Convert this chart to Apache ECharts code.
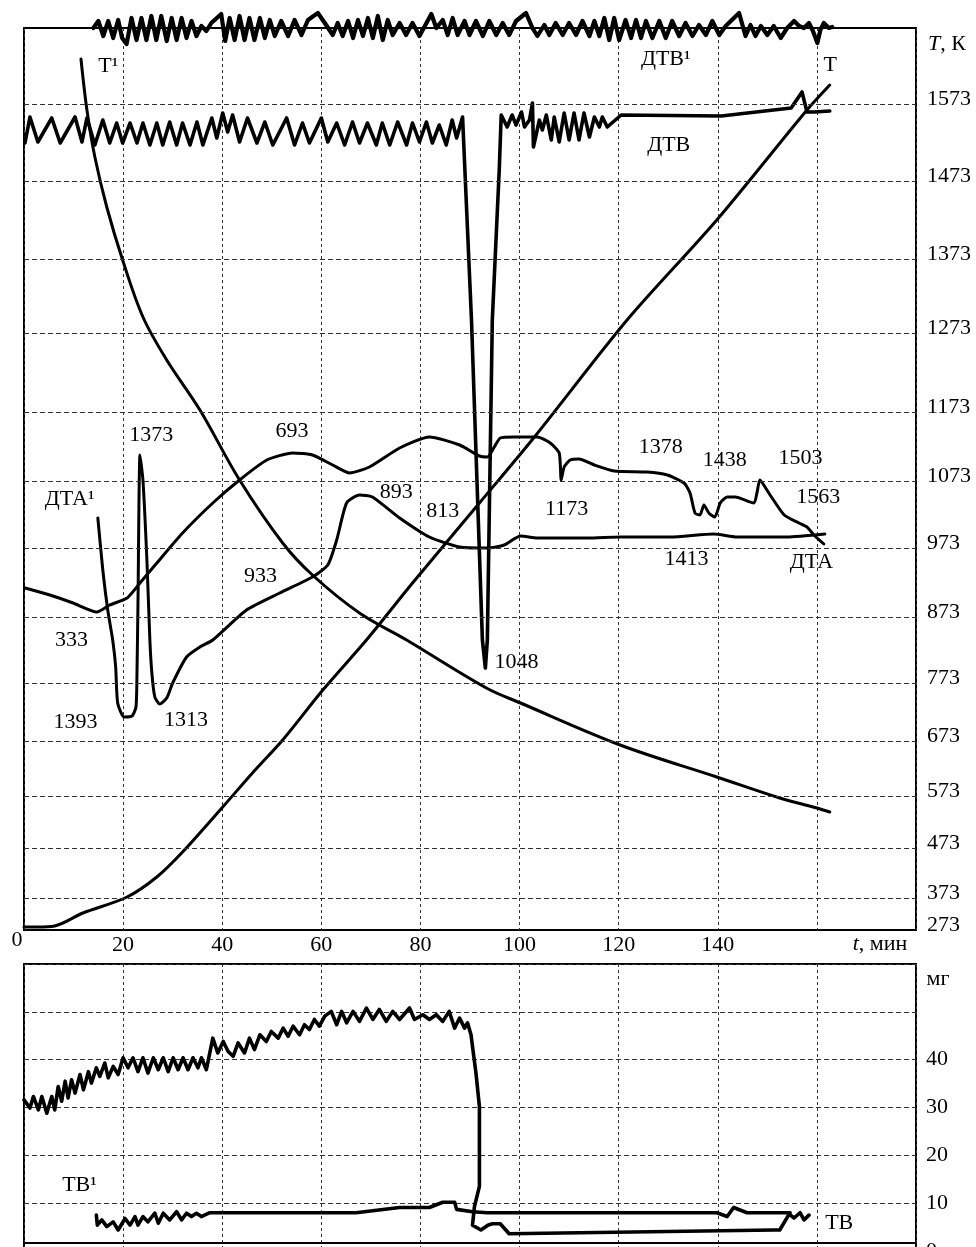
<!DOCTYPE html>
<html><head><meta charset="utf-8">
<script src="https://cdn.jsdelivr.net/npm/echarts@6/dist/echarts.min.js"></script>
<style>html,body{margin:0;padding:0;background:#fff}#c{width:976px;height:1247px}</style>
</head><body><div id="c"></div>
<script>
// ---- axis ticks ----
const timeTicks = [20, 40, 60, 80, 100, 120, 140];
const tempTickLabels = ['273','373','473','573','673','773','873','973','1073','1173','1273','1373','1473','1573'];
const tempTickPos = [0, 32, 82, 134, 189, 247, 313, 382, 449, 518, 597, 671, 749, 826];
const massTickLabels = ['0','10','20','30','40'];

// ---- top panel curves: [t (min), height on chart scale] ----
const heatT = [[0,3],[2.6,3],[6.2,4],[11.9,17],[20.8,33],[26.8,53],[32.0,78],[40.1,123],[46.1,157],[52.2,190],[60.3,240],[69.1,290],[78.4,347],[91.9,427],[103.0,493],[121.7,610],[139.8,710],[158.0,820],[162.6,845]];
const coolT = [[11.5,871],[12.7,820],[14.3,773],[16.7,723],[19.9,670],[24.0,613],[28.8,570],[35.5,520],[43.5,450],[52.2,387],[58.2,355],[67.7,317],[77.2,290],[93.3,242],[100.2,227],[120.3,185],[139.8,153],[152.5,132],[160.0,122],[162.6,118]];
const dtaHeat = [[0.2,342],[5.2,335],[9.9,327],[14.7,318],[17.3,325],[20.8,332],[23.4,347],[26.8,367],[32.0,397],[38.1,427],[43.5,450],[49.0,470],[54.2,477],[58.2,475],[62.3,465],[65.7,457],[69.7,463],[75.8,482],[81.8,493],[87.9,485],[91.9,474],[93.5,473],[94.9,483],[96.1,492],[98.9,493],[103.6,493],[106.2,487],[108.0,477],[108.4,450],[109.0,463],[110.2,470],[112.0,471],[115.1,465],[119.1,459],[125.7,458],[129.8,455],[133.2,447],[134.4,437],[135.4,417],[136.4,415],[137.2,425],[138.2,417],[139.4,413],[140.5,427],[141.9,433],[143.5,433],[147.3,427],[147.9,437],[148.5,450],[150.3,437],[153.4,415],[156.4,407],[158.0,403],[159.4,395],[161.4,386]];
const dtaCool = [[14.9,412],[15.9,360],[16.9,320],[17.9,290],[18.5,263],[18.9,227],[20.2,213],[21.8,214],[22.6,223],[22.8,257],[23.0,327],[23.4,475],[24.0,450],[24.8,370],[25.4,290],[25.8,257],[26.4,233],[27.4,226],[28.8,232],[30.0,247],[32.8,273],[35.5,283],[38.1,290],[44.9,320],[51.6,337],[58.2,353],[61.3,365],[63.1,390],[65.1,427],[67.7,435],[70.3,433],[75.8,412],[81.8,393],[87.9,383],[93.5,382],[96.9,385],[100.2,394],[103.6,392],[113.7,392],[120.3,393],[130.4,393],[139.2,396],[143.9,393],[154.0,393],[161.6,396]];
const dtgHeat = [[0.2,787],[1.2,813],[2.8,788],[5.6,812],[7.3,787],[10.3,813],[11.7,788],[12.7,812],[14.3,785],[15.9,810],[17.3,787],[18.7,807],[19.9,787],[21.4,807],[22.8,787],[24.0,807],[25.4,785],[26.8,807],[28.0,785],[29.4,808],[30.8,785],[32.0,807],[33.5,785],[34.9,808],[36.1,785],[37.9,812],[38.9,792],[40.1,817],[41.1,798],[42.1,815],[43.5,788],[45.1,812],[47.0,787],[48.6,808],[50.2,785],[53.0,812],[54.6,785],[56.2,807],[57.6,787],[60.0,812],[61.3,788],[63.1,807],[64.7,785],[66.3,808],[67.7,787],[69.3,807],[71.1,785],[72.3,807],[73.8,785],[75.4,808],[77.2,785],[78.4,807],[79.8,788],[81.2,808],[82.4,787],[83.8,805],[85.2,785],[86.4,810],[87.3,792],[88.5,813],[90.3,610],[92.5,290],[93.1,262],[93.5,290],[94.5,610],[95.9,760],[96.3,815],[97.5,803],[98.5,815],[99.3,805],[100.4,818],[101.0,803],[102.0,810],[102.6,827],[102.8,783],[104.0,810],[104.6,800],[105.4,815],[106.4,790],[107.0,813],[108.0,788],[109.0,817],[110.0,790],[111.0,817],[112.0,790],[113.0,817],[114.1,793],[115.1,813],[116.1,803],[116.7,813],[117.7,803],[120.5,815],[140.7,814],[154.8,822],[157.0,838],[158.0,818],[159.4,818],[162.6,819]];
const dtgCool = [[14.0,902],[15.0,909],[16.0,894],[17.0,909],[18.0,892],[19.0,910],[19.8,892],[20.7,886],[21.7,912],[22.7,890],[23.7,912],[24.7,890],[25.7,914],[26.7,890],[27.7,914],[28.8,889],[29.8,912],[30.8,890],[31.8,912],[32.8,892],[33.8,909],[34.8,894],[35.8,904],[36.8,899],[37.8,907],[39.8,916],[40.6,889],[41.5,912],[42.5,890],[43.5,914],[44.5,890],[45.5,912],[46.5,890],[47.6,912],[48.6,892],[49.6,910],[50.6,894],[51.9,909],[53.3,894],[54.6,910],[56.0,895],[57.3,910],[59.3,917],[60.7,907],[62.3,895],[63.3,907],[64.3,894],[65.4,909],[66.4,892],[67.4,910],[68.4,894],[69.4,912],[70.4,892],[71.4,914],[72.4,890],[73.4,910],[74.4,895],[75.8,907],[77.1,895],[78.4,907],[79.8,894],[82.2,916],[83.2,902],[84.5,910],[85.5,895],[86.5,912],[87.5,895],[88.9,909],[89.9,895],[91.2,909],[92.6,894],[93.9,909],[95.3,895],[96.6,907],[97.9,895],[99.3,909],[101.3,917],[102.6,902],[103.6,894],[105.0,905],[106.0,895],[107.3,907],[108.7,895],[110.0,907],[111.4,895],[112.7,909],[114.1,894],[115.1,909],[116.1,894],[117.1,912],[118.1,890],[119.1,912],[120.1,890],[121.4,910],[122.5,892],[123.5,910],[124.5,892],[125.5,909],[126.8,892],[128.2,909],[129.5,892],[130.8,909],[132.2,894],[133.5,907],[134.9,894],[136.2,905],[137.6,895],[138.9,909],[140.3,895],[141.6,904],[144.3,917],[145.6,894],[146.6,905],[147.6,894],[148.7,904],[150.0,895],[151.3,904],[152.7,892],[154.0,902],[155.4,909],[156.4,904],[157.4,902],[158.4,907],[159.2,899],[160.1,887],[160.7,900],[161.4,907],[162.4,902],[163.1,903]];

// ---- bottom panel curves: [t (min), mass (mg)] ----
const tgHeat = [[0,31.6],[1.2,29.9],[1.9,32.3],[2.9,29.5],[3.6,32.3],[4.6,28.8],[5.6,32.3],[6.2,29.5],[6.9,34.4],[7.6,31.3],[8.3,35.5],[8.9,32.0],[9.6,35.8],[10.3,33.0],[11.3,36.9],[12.0,33.7],[13.0,37.5],[13.6,35.1],[14.6,38.3],[15.3,36.5],[16.3,39.3],[17.0,36.2],[18.0,38.6],[19.0,36.9],[20.0,40.4],[21.0,38.3],[22.0,40.4],[23.0,37.5],[24.0,40.4],[25.0,37.2],[26.1,40.4],[27.1,37.9],[28.1,40.4],[29.1,37.5],[30.1,40.4],[31.1,37.9],[32.1,40.4],[33.1,37.9],[34.1,40.4],[35.1,38.3],[35.8,40.4],[36.8,37.9],[38.1,44.5],[39.1,41.4],[40.2,43.8],[41.2,41.7],[42.2,40.7],[43.2,43.5],[44.5,41.4],[45.5,44.5],[46.5,42.1],[47.6,45.2],[48.9,43.8],[49.9,45.9],[51.3,44.5],[52.3,46.6],[53.3,44.9],[54.3,47.0],[55.6,45.2],[56.6,47.3],[57.6,46.3],[58.6,48.4],[59.6,47.0],[60.7,49.1],[62.0,50.1],[63.1,47.3],[64.1,50.1],[65.1,47.7],[66.4,50.1],[67.7,48.0],[69.1,50.8],[70.4,48.4],[71.7,50.5],[73.1,48.0],[74.4,50.1],[75.8,48.4],[77.8,50.8],[78.8,48.4],[80.5,49.4],[81.8,48.4],[83.2,49.4],[84.5,48.0],[85.8,50.1],[86.9,46.6],[87.9,48.7],[88.9,46.6],[89.5,47.7],[90.2,45.2],[91.2,37.2],[91.9,30.2],[91.9,13.5],[90.9,9.3],[90.5,5.4],[92.2,4.4],[93.6,5.4],[94.5,5.7],[96.1,5.7],[97.9,3.6],[151.3,4.4],[152.5,4.4],[154.4,7.7],[155.4,6.9],[156.6,8.0],[157.4,6.5],[158.4,7.5]];
const tgCool = [[14.6,7.5],[14.8,5.4],[15.7,6.5],[16.7,5.1],[18.0,6.1],[19.0,4.4],[20.4,6.8],[21.4,5.4],[22.4,7.2],[23.0,5.4],[24.0,7.2],[25.0,6.1],[26.4,7.9],[27.1,5.8],[28.1,7.9],[29.4,6.5],[30.8,8.2],[31.8,6.5],[32.8,7.9],[33.8,7.2],[34.8,7.9],[35.8,7.2],[37.5,8.0],[67.0,8.0],[75.8,9.1],[81.8,9.1],[84.5,10.2],[86.9,10.2],[87.3,8.7],[90.5,8.2],[93.5,8.0],[139.8,8.0],[141.9,7.2],[143.2,9.1],[145.9,8.0],[154.6,8.0]];

// ---- annotations: [t, height, text] ----
const notesTop = [[17.1,863,'Т¹'],[129.6,870,'ДТВ¹'],[162.8,864,'Т'],[130.2,784,'ДТВ'],[25.8,494,'1373'],[54.2,498,'693'],[9.3,430,'ДТА¹'],[75.2,437,'893'],[84.6,418,'813'],[47.8,353,'933'],[9.7,289,'333'],[10.5,207,'1393'],[32.8,209,'1313'],[99.5,267,'1048'],[109.6,420,'1173'],[128.6,482,'1378'],[141.5,469,'1438'],[156.8,471,'1503'],[160.4,432,'1563'],[133.8,370,'1413'],[159.0,367,'ДТА']];
const notesBottom = [[11.3,13.6,'ТВ¹'],[164.6,5.7,'ТВ']];

const FONT = 'Liberation Serif';
const FS = 22;
const chart = echarts.init(document.getElementById('c'));

const curve = (data, xi, yi, extra) => Object.assign({
  type: 'line', data: data, xAxisIndex: xi, yAxisIndex: yi,
  symbol: 'none', silent: true, animation: false,
  lineStyle: {color: '#000', width: 3, join: 'round', cap: 'round'}
}, extra || {});
const thick = w => ({color: '#000', width: w, join: 'round', cap: 'round'});

const notes = (arr, xi, yi) => ({
  type: 'scatter', xAxisIndex: xi, yAxisIndex: yi, symbolSize: 1, silent: true, animation: false, clip: false,
  itemStyle: {color: '#fff', opacity: 0},
  data: arr.map(n => ({value: [n[0], n[1]], name: n[2]})),
  label: {show: true, position: [0, 0], align: 'center', verticalAlign: 'middle', formatter: p => p.name,
    color: '#000', opacity: 1, textBorderWidth: 0, fontFamily: FONT, fontSize: FS}
});

const xAx = (gi, showLabels) => ({
  type: 'value', gridIndex: gi, min: 0, max: 180, interval: 20,
  axisLine: {show: false}, axisTick: {show: false},
  splitLine: {show: true, lineStyle: {color: '#333', width: 1, type: [3, 3]}},
  axisLabel: {show: showLabels, margin: 4, color: '#000', fontFamily: FONT, fontSize: FS,
    formatter: v => timeTicks.indexOf(v) >= 0 ? String(v) : ''}
});

chart.setOption({
  backgroundColor: '#fff',
  animation: false,
  grid: [
    {left: 24, top: 28, width: 892, height: 902, show: true, borderColor: '#000', borderWidth: 2, backgroundColor: 'transparent', outerBoundsMode: 'none', containLabel: false},
    {left: 24, top: 964, width: 892, height: 287, show: true, borderColor: '#000', borderWidth: 2, backgroundColor: 'transparent', outerBoundsMode: 'none', containLabel: false}
  ],
  xAxis: [xAx(0, true), xAx(1, false)],
  yAxis: [
    {type: 'value', gridIndex: 0, min: 0, max: 902, axisLine: {show: false}, axisTick: {show: false}, axisLabel: {show: false}, splitLine: {show: false}},
    {type: 'value', gridIndex: 1, position: 'right', min: 0, max: 60, interval: 10,
      axisLine: {show: false}, axisTick: {show: false},
      splitLine: {show: true, lineStyle: {color: '#333', width: 1, type: [5, 3]}},
      axisLabel: {margin: 10, color: '#000', fontFamily: FONT, fontSize: FS,
        formatter: v => massTickLabels.indexOf(String(v)) >= 0 ? String(v) : ''}}
  ],
  series: [
    curve(heatT, 0, 0, {smooth: 0.3,
      markLine: {silent: true, symbol: ['none', 'none'], animation: false,
        lineStyle: {color: '#333', width: 1, type: [5, 3]},
        label: {show: true, position: 'end', distance: 11, formatter: '{a|{b}}', color: '#000',
          rich: {a: {fontFamily: FONT, fontSize: FS, color: '#000', padding: [0, 0, 10, 0]}}},
        data: tempTickPos.map((p, i) => i === 0
          ? {yAxis: p, name: tempTickLabels[i], lineStyle: {color: 'rgba(0,0,0,0)', width: 1}}
          : {yAxis: p, name: tempTickLabels[i]})}}),
    curve(coolT, 0, 0, {smooth: 0.35}),
    curve(dtaHeat, 0, 0, {smooth: 0.2}),
    curve(dtaCool, 0, 0, {smooth: 0.2}),
    curve(dtgHeat, 0, 0, {lineStyle: thick(3.6)}),
    curve(dtgCool, 0, 0, {clip: false, lineStyle: thick(4.2)}),
    curve(tgHeat, 1, 1, {lineStyle: thick(3.6),
      markLine: {silent: true, symbol: ['none', 'none'], animation: false, label: {show: false},
        lineStyle: {color: '#000', width: 2, type: 'solid'}, data: [{yAxis: 1.7}]}}),
    curve(tgCool, 1, 1, {lineStyle: thick(3.6)}),
    notes(notesTop, 0, 0),
    notes(notesBottom, 1, 1)
  ],
  graphic: [
    {type: 'text', x: 947, y: 44, silent: true, style: {text: '{i|T}, К', rich: {i: {fontStyle: 'italic', fontFamily: FONT, fontSize: FS}}, fontFamily: FONT, fontSize: FS, fill: '#000', align: 'center', verticalAlign: 'middle'}},
    {type: 'text', x: 880, y: 944, silent: true, style: {text: '{i|t}, мин', rich: {i: {fontStyle: 'italic', fontFamily: FONT, fontSize: FS}}, fontFamily: FONT, fontSize: FS, fill: '#000', align: 'center', verticalAlign: 'middle'}},
    {type: 'text', x: 938, y: 979, silent: true, style: {text: 'мг', fontFamily: FONT, fontSize: FS, fill: '#000', align: 'center', verticalAlign: 'middle'}},
    {type: 'text', x: 17, y: 940, silent: true, style: {text: '0', fontFamily: FONT, fontSize: FS, fill: '#000', align: 'center', verticalAlign: 'middle'}}
  ]
});
</script>
</body></html>
